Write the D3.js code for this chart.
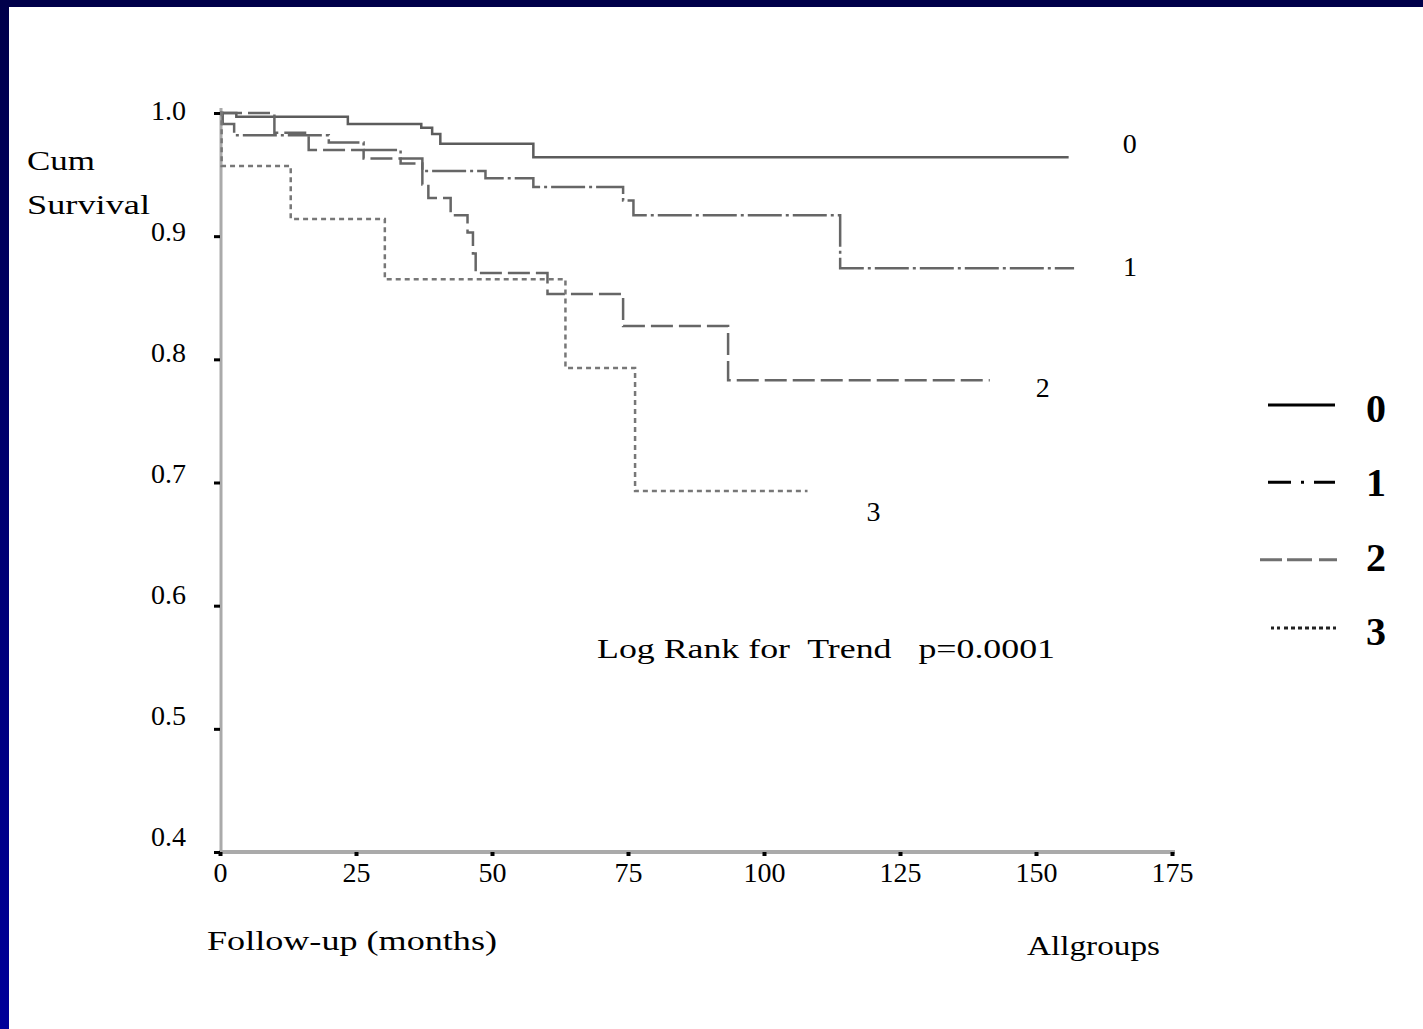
<!DOCTYPE html>
<html>
<head>
<meta charset="utf-8">
<script src="https://cdn.jsdelivr.net/npm/d3@7/dist/d3.min.js"></script>
<style>
  html, body { margin: 0; padding: 0; background: #fff; }
  svg { display: block; }
</style>
</head>
<body>
<svg id="chart" width="1423" height="1029"></svg>
<script>
// ---------- data ----------
const xTicks = [0, 25, 50, 75, 100, 125, 150, 175];
const yTicks = [0.4, 0.5, 0.6, 0.7, 0.8, 0.9, 1.0];

const groups = ["0", "1", "2", "3"];

const time0 = [0, 3, 23.5, 37, 39, 40.5, 57.6, 156];
const surv0 = [1.0, 0.997, 0.991, 0.988, 0.983, 0.975, 0.964, 0.964];

const time1 = [0, 0.5, 2.6, 20, 26.4, 33.2, 37.2, 48.8, 57.6, 74.1, 76, 114, 157];
const surv1 = [1.0, 0.991, 0.982, 0.976, 0.970, 0.963, 0.953, 0.947, 0.940, 0.929, 0.917, 0.874, 0.874];

const time2 = [0, 10, 16.3, 26.4, 33.2, 37.2, 38.3, 42.4, 45.5, 46.5, 47, 60.2, 74.1, 93.4, 141.5];
const surv2 = [1.0, 0.984, 0.970, 0.963, 0.959, 0.942, 0.931, 0.917, 0.903, 0.886, 0.870, 0.853, 0.827, 0.783, 0.783];

const time3 = [0, 0.3, 13, 30.3, 63.5, 76.3, 108];
const surv3 = [1.0, 0.957, 0.914, 0.865, 0.793, 0.693, 0.693];

const seriesTimes = [time0, time1, time2, time3];
const seriesSurv = [surv0, surv1, surv2, surv3];

const titleY = ["Cum", "Survival"];
const xTitle = "Follow-up (months)";
const note = "Log Rank for  Trend   p=0.0001";
const footer = "Allgroups";

// ---------- drawing ----------
const svg = d3.select("#chart");
const serif = "'Liberation Serif', 'DejaVu Serif', serif";

// frame
const defs = svg.append("defs");
const grad = defs.append("linearGradient").attr("id", "leftBand")
  .attr("x1", 0).attr("y1", 0).attr("x2", 0).attr("y2", 1);
grad.append("stop").attr("offset", "0%").attr("stop-color", "#00004a");
grad.append("stop").attr("offset", "100%").attr("stop-color", "#000099");
svg.append("rect").attr("x", 0).attr("y", 0).attr("width", 1423).attr("height", 1029).attr("fill", "#fff");
svg.append("rect").attr("x", 0).attr("y", 0).attr("width", 1423).attr("height", 7).attr("fill", "#00004a");
svg.append("rect").attr("x", 0).attr("y", 0).attr("width", 9).attr("height", 1029).attr("fill", "url(#leftBand)");

const x = d3.scaleLinear().domain([0, 175]).range([220, 1172]);
const y = d3.scaleLinear().domain([0.4, 1.0]).range([852, 113]);
// label positions drift slightly from tick positions in the original bitmap
const yLabel = d3.scaleLinear().domain([0.4, 1.0]).range([845, 119]);

// axis lines (gray)
svg.append("line").attr("x1", 221).attr("x2", 221).attr("y1", 108).attr("y2", 853)
  .attr("stroke", "#aaaaaa").attr("stroke-width", 3);
svg.append("line").attr("x1", 219).attr("x2", 1175).attr("y1", 852).attr("y2", 852)
  .attr("stroke", "#aaaaaa").attr("stroke-width", 4);

// y axis
const yAxis = svg.append("g").attr("transform", "translate(220,0)")
  .call(d3.axisLeft(y).tickValues(yTicks).tickFormat(d3.format(".1f")).tickSize(6).tickPadding(28));
yAxis.select(".domain").remove();
yAxis.selectAll(".tick line").attr("stroke", "#000").attr("stroke-width", 3);
yAxis.selectAll(".tick text").attr("font-family", serif).attr("font-size", 28)
  .attr("fill", "#000").attr("dy", 0)
  .attr("y", d => yLabel(d) - y(d));

// x axis
const xAxis = svg.append("g").attr("transform", "translate(0,852)")
  .call(d3.axisBottom(x).tickValues(xTicks).tickFormat(d3.format("d")).tickSize(4).tickPadding(6));
xAxis.select(".domain").remove();
xAxis.selectAll(".tick line").attr("stroke", "#000").attr("stroke-width", 4);
xAxis.selectAll(".tick text").attr("font-family", serif).attr("font-size", 28).attr("fill", "#000");

// series
const styles = [
  { stroke: "#5c5c5c", dash: null, width: 2.5 },
  { stroke: "#666666", dash: "34 4 3 4", width: 2.5 },
  { stroke: "#666666", dash: "22 6", width: 2.5 },
  { stroke: "#777777", dash: "5 4", width: 2.5 }
];
const line = d3.line()
  .x(d => x(d[0]))
  .y(d => y(d[1]))
  .curve(d3.curveStepAfter);

seriesTimes.forEach((ts, i) => {
  const pts = ts.map((t, j) => [t, seriesSurv[i][j]]);
  svg.append("path")
    .attr("d", line(pts))
    .attr("fill", "none")
    .attr("stroke", styles[i].stroke)
    .attr("stroke-width", styles[i].width)
    .attr("stroke-dasharray", styles[i].dash);
});

// end labels on curves
const endLabelDx = [61, 56, 53, 66];
const endLabelDy = [-4, 8, 17, 30];
seriesTimes.forEach((ts, i) => {
  const last = ts.length - 1;
  svg.append("text")
    .attr("x", x(ts[last]) + endLabelDx[i])
    .attr("y", y(seriesSurv[i][last]) + endLabelDy[i])
    .attr("text-anchor", "middle")
    .attr("font-family", serif).attr("font-size", 28).attr("fill", "#000")
    .text(groups[i]);
});

// y title
svg.append("text").attr("x", 27).attr("y", 170).attr("font-family", serif).attr("font-size", 28)
  .attr("textLength", 68).attr("lengthAdjust", "spacingAndGlyphs").text(titleY[0]);
svg.append("text").attr("x", 27).attr("y", 214).attr("font-family", serif).attr("font-size", 28)
  .attr("textLength", 123).attr("lengthAdjust", "spacingAndGlyphs").text(titleY[1]);

// x title
svg.append("text").attr("x", 207).attr("y", 950).attr("font-family", serif).attr("font-size", 28)
  .attr("textLength", 290).attr("lengthAdjust", "spacingAndGlyphs").text(xTitle);

// footer
svg.append("text").attr("x", 1027).attr("y", 955).attr("font-family", serif).attr("font-size", 28)
  .attr("textLength", 133).attr("lengthAdjust", "spacingAndGlyphs").text(footer);

// log rank note
svg.append("text").attr("x", 597).attr("y", 658).attr("font-family", serif).attr("font-size", 28)
  .attr("textLength", 458).attr("lengthAdjust", "spacingAndGlyphs")
  .attr("xml:space", "preserve").style("white-space", "pre").text(note);

// legend
const legendY = d3.scalePoint().domain(groups).range([407, 630]);
const legendStyles = [
  { stroke: "#000", dash: null, x1: 1268, x2: 1335, dy: -2 },
  { stroke: "#000", dash: "23 10 3 10 30", x1: 1268, x2: 1335, dy: 1 },
  { stroke: "#707070", dash: "22 5 25 7 18", x1: 1260, x2: 1339, dy: 4 },
  { stroke: "#222", dash: "3 3 3 4 4 3 4 3 4 3 4 3 4 3 4 3 4 3", x1: 1271, x2: 1336, dy: -2 }
];
const lg = svg.append("g");
groups.forEach((g, i) => {
  const ly = legendY(g);
  lg.append("line").attr("x1", legendStyles[i].x1).attr("x2", legendStyles[i].x2)
    .attr("y1", ly + legendStyles[i].dy).attr("y2", ly + legendStyles[i].dy)
    .attr("stroke", legendStyles[i].stroke).attr("stroke-width", 3)
    .attr("stroke-dasharray", legendStyles[i].dash);
  lg.append("text").attr("x", 1376).attr("y", ly + 15)
    .attr("text-anchor", "middle")
    .attr("font-family", serif).attr("font-size", 40).attr("font-weight", "bold")
    .attr("fill", "#000").text(g);
});
</script>
</body>
</html>
